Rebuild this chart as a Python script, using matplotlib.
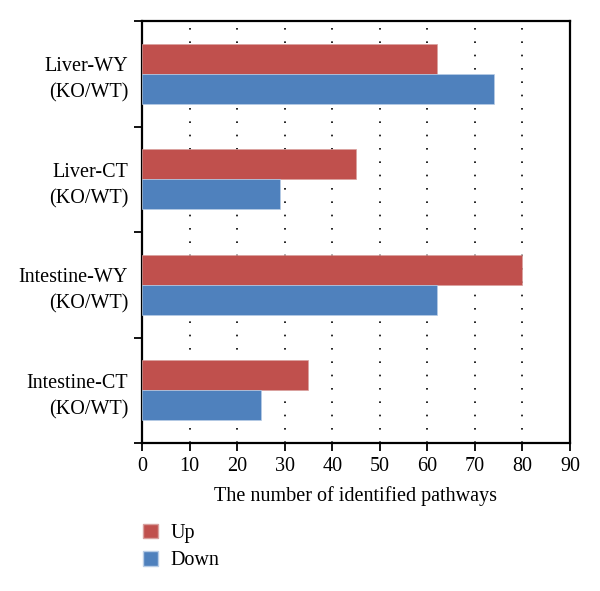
"""
Pathway counts, KO/WT comparison
"""

import numpy as np
import matplotlib
matplotlib.use("Agg")
import matplotlib.pyplot as plt
from matplotlib.patches import Patch

# Data
categories = ["Liver-WY\n(KO/WT)", "Liver-CT\n(KO/WT)",
              "Intestine-WY\n(KO/WT)", "Intestine-CT\n(KO/WT)"]
up_values = [62, 45, 80, 35]
down_values = [74, 29, 62, 25]
x_ticks = [0, 10, 20, 30, 40, 50, 60, 70, 80, 90]

red = "#C0504D"
blue = "#4F81BD"

plt.rcParams["font.family"] = ["Liberation Serif", "DejaVu Serif"]

fig = plt.figure(figsize=(6.0, 5.91), dpi=100)
ax = fig.add_axes([142 / 600, 1 - 443 / 591, 428 / 600, 422 / 591])

n = len(categories)
centers = np.arange(n)
h = 0.285
ax.barh(centers - h / 2, up_values, height=h, color=red, edgecolor="#d8a09e", linewidth=0.5, zorder=3)
ax.barh(centers + h / 2, down_values, height=h, color=blue, edgecolor="#b8cde6", linewidth=0.5, zorder=3)

ax.set_xlim(0, 90)
ax.set_ylim(n - 0.5, -0.5)

# dotted grid at inner ticks
for v in x_ticks[1:-1]:
    ax.axvline(v, color="black", linestyle=(0, (1, 7)), linewidth=1.2, zorder=1)

ax.set_xticks(x_ticks)
ax.set_yticks(np.arange(n + 1) - 0.5)
ax.set_yticklabels([])
ax.set_yticks(centers, minor=True)
ax.set_yticklabels(categories, minor=True, ha="right", multialignment="right", linespacing=1.5)
ax.tick_params(axis="y", which="minor", length=0, pad=10, labelsize=14.5)
ax.tick_params(axis="y", which="major", direction="out", length=6, width=1.3)
ax.tick_params(axis="x", direction="out", length=6, width=1.3, labelsize=14.5, pad=4)

for s in ax.spines.values():
    s.set_linewidth(1.6)

ax.set_xlabel("The number of identified pathways", fontsize=14.5, labelpad=7)

handles = [Patch(facecolor=red, edgecolor="#d8a09e", label="Up"),
           Patch(facecolor=blue, edgecolor="#b8cde6", label="Down")]
fig.legend(handles=handles, loc="upper left", bbox_to_anchor=(143 / 600, 1 - 524 / 591),
           frameon=False, fontsize=14.5, handlelength=0.72, handleheight=0.72,
           handletextpad=0.65, labelspacing=0.4, borderpad=0, borderaxespad=0)

fig.savefig("out.png", dpi=100)
